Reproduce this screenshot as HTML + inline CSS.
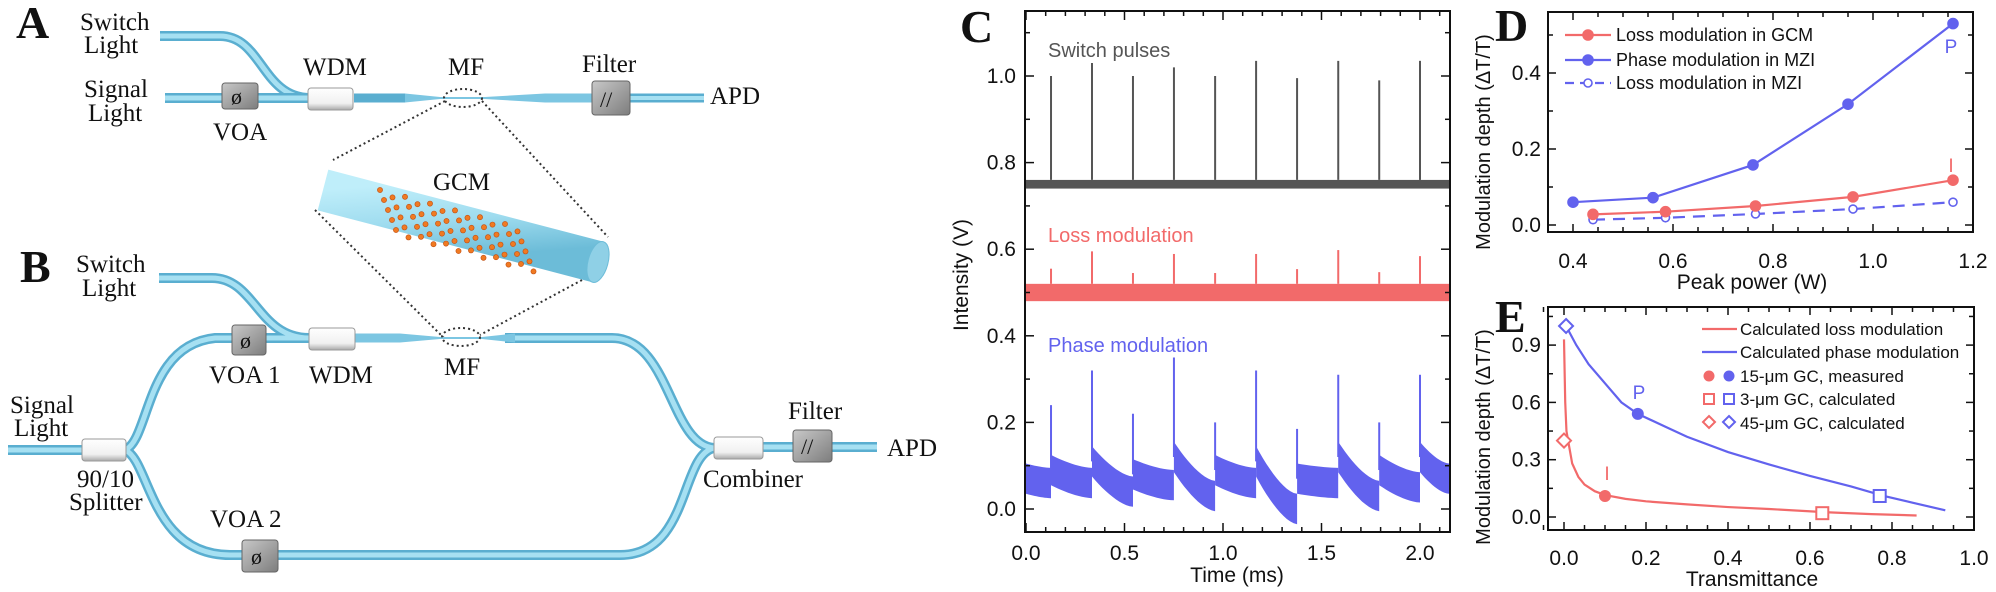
<!DOCTYPE html>
<html><head><meta charset="utf-8"><style>
html,body{margin:0;padding:0;background:#fff;}
svg{display:block;}
.serif{font-family:"Liberation Serif",serif;fill:#111;}
.sans{font-family:"Liberation Sans",sans-serif;}
</style></head><body>
<svg id="fig" width="1996" height="592" viewBox="0 0 1996 592" xmlns="http://www.w3.org/2000/svg">
<defs>
<linearGradient id="boxg" x1="0" y1="0" x2="1" y2="1"><stop offset="0" stop-color="#c8c8c8"/><stop offset="1" stop-color="#7d7d7d"/></linearGradient>
<linearGradient id="wdmg" x1="0" y1="0" x2="0" y2="1"><stop offset="0" stop-color="#ffffff"/><stop offset="0.7" stop-color="#f0f0f0"/><stop offset="1" stop-color="#a9a9a9"/></linearGradient>
<linearGradient id="cylg" x1="0" y1="0" x2="0.3" y2="1"><stop offset="0" stop-color="#bfeefa"/><stop offset="0.5" stop-color="#9fdcef"/><stop offset="1" stop-color="#6cbcd8"/></linearGradient>
</defs>

<g>
<text class="serif" x="16" y="38" font-size="46" font-weight="bold">A</text>
<text class="serif" x="80" y="30" font-size="25">Switch</text>
<text class="serif" x="84" y="53" font-size="25">Light</text>
<text class="serif" x="84" y="97" font-size="25">Signal</text>
<text class="serif" x="88" y="121" font-size="25">Light</text>
<g fill="none" stroke-linecap="butt">
<path d="M160 36 H220 C262 36 262 98 310 98" stroke="#5aaed0" stroke-width="10"/>
<path d="M160 36 H220 C262 36 262 98 310 98" stroke="#a6e0f2" stroke-width="5"/>
<path d="M165 98 H310" stroke="#5aaed0" stroke-width="10"/>
<path d="M165 98 H310" stroke="#a6e0f2" stroke-width="5"/>
<path d="M354 98 H405" stroke="#5aaed0" stroke-width="9"/>
<path d="M590 98 H704" stroke="#5aaed0" stroke-width="9"/>
<path d="M590 98 H704" stroke="#a6e0f2" stroke-width="4"/>
</g>
<polygon points="405,93.5 440,97 485,97 545,93.5 592,93.5 592,102.5 545,102.5 485,99 440,99 405,102.5" fill="#7cc6e2"/>
<g><rect x="222" y="83" width="36" height="26" rx="3" fill="url(#boxg)" stroke="#666"/><text class="serif" x="231" y="104" font-size="22" fill="#111">ø</text></g>
<rect x="308" y="88" width="45" height="22" rx="3" fill="url(#wdmg)" stroke="#999"/>
<ellipse cx="463" cy="98" rx="19" ry="9" fill="none" stroke="#333" stroke-width="2" stroke-dasharray="2,3"/>
<g><rect x="592" y="81" width="38" height="34" rx="3" fill="url(#boxg)" stroke="#666"/><text class="serif" x="600" y="107" font-size="22" fill="#111">//</text></g>
<text class="serif" x="303" y="75" font-size="25">WDM</text>
<text class="serif" x="448" y="75" font-size="25">MF</text>
<text class="serif" x="582" y="72" font-size="25">Filter</text>
<text class="serif" x="213" y="140" font-size="25">VOA</text>
<text class="serif" x="710" y="104" font-size="25">APD</text>
</g>

<g>
<line x1="445" y1="101" x2="333" y2="160" stroke="#333" stroke-width="2" stroke-dasharray="2,3"/>
<line x1="482" y1="101" x2="608" y2="237" stroke="#333" stroke-width="2" stroke-dasharray="2,3"/>
<line x1="315" y1="210" x2="444" y2="338" stroke="#333" stroke-width="2" stroke-dasharray="2,3"/>
<line x1="582" y1="280" x2="480" y2="335" stroke="#333" stroke-width="2" stroke-dasharray="2,3"/>
<line x1="323" y1="190" x2="598" y2="262" stroke="url(#cylg)" stroke-width="42"/>
<ellipse cx="598" cy="262" rx="10" ry="21" transform="rotate(15 598 262)" fill="#8fd0e6" stroke="#6cbcd8"/>
<g id="lattice"></g>
<text class="serif" x="433" y="190" font-size="25">GCM</text>
</g>

<g>
<text class="serif" x="20" y="282" font-size="46" font-weight="bold">B</text>
<text class="serif" x="76" y="272" font-size="25">Switch</text>
<text class="serif" x="82" y="296" font-size="25">Light</text>
<text class="serif" x="10" y="413" font-size="25">Signal</text>
<text class="serif" x="14" y="436" font-size="25">Light</text>
<g fill="none">
<path id="fb1" d="M159 278 H212 C255 278 258 338 309 338"/>
<path id="fb2" d="M8 450 H82"/>
<path id="fb3" d="M125 450 C150 440 145 345 215 338 H309"/>
<path id="fb4" d="M125 450 C150 460 150 555 230 555 H620 C690 555 680 455 714 448"/>
<path id="fb5" d="M505 338 H612 C670 338 670 445 714 448"/>
<path id="fb6" d="M763 447 H877"/>
</g>
<polygon points="355,333.5 400,333.5 440,337 482,337 515,333.5 515,342.5 482,339 440,339 400,342.5 355,342.5" fill="#7cc6e2"/>
<g><rect x="232" y="325" width="34" height="30" rx="3" fill="url(#boxg)" stroke="#666"/><text class="serif" x="240" y="348" font-size="22">ø</text></g>
<rect x="309" y="328" width="46" height="22" rx="3" fill="url(#wdmg)" stroke="#999"/>
<ellipse cx="461" cy="337" rx="19" ry="9" fill="none" stroke="#333" stroke-width="2" stroke-dasharray="2,3"/>
<rect x="82" y="439" width="44" height="22" rx="3" fill="url(#wdmg)" stroke="#999"/>
<rect x="714" y="437" width="49" height="22" rx="3" fill="url(#wdmg)" stroke="#999"/>
<g><rect x="242" y="540" width="36" height="32" rx="3" fill="url(#boxg)" stroke="#666"/><text class="serif" x="251" y="564" font-size="22">ø</text></g>
<g><rect x="793" y="430" width="39" height="32" rx="3" fill="url(#boxg)" stroke="#666"/><text class="serif" x="801" y="454" font-size="22">//</text></g>
<text class="serif" x="209" y="383" font-size="25">VOA 1</text>
<text class="serif" x="309" y="383" font-size="25">WDM</text>
<text class="serif" x="444" y="375" font-size="25">MF</text>
<text class="serif" x="77" y="487" font-size="25">90/10</text>
<text class="serif" x="69" y="510" font-size="25">Splitter</text>
<text class="serif" x="210" y="527" font-size="25">VOA 2</text>
<text class="serif" x="703" y="487" font-size="25">Combiner</text>
<text class="serif" x="788" y="419" font-size="25">Filter</text>
<text class="serif" x="887" y="456" font-size="25">APD</text>
</g>

<text class="serif" x="960" y="42" font-size="46" font-weight="bold">C</text>
<text class="serif" x="1495" y="41" font-size="46" font-weight="bold">D</text>
<text class="serif" x="1495" y="332" font-size="46" font-weight="bold">E</text>

<g id="chartC"></g>
<g id="chartD"></g>
<g id="chartE"></g>
</svg>

<script>
const pulseTimes = [0.127,0.335,0.543,0.751,0.96,1.168,1.376,1.585,1.793,2.0];
const switchPeaks = [1.0,1.03,1.0,1.02,1.0,1.035,0.995,1.035,0.99,1.035];
const switchBand = [0.74,0.76];
const lossPeaks = [0.555,0.595,0.545,0.589,0.545,0.589,0.554,0.598,0.547,0.584];
const lossBand = [0.48,0.52];
const phasePeaks = [0.24,0.32,0.22,0.35,0.2,0.32,0.185,0.31,0.2,0.31];
const phaseStart = [0.09,0.11,0.08,0.12,0.09,0.11,0.07,0.12,0.09,0.12];
const phaseEnd = [0.06,0.04,0.055,0.03,0.06,0.0,0.06,0.03,0.05,0.07];
const phaseInitial = [0.07,0.06];
const cXTicks = [0,0.5,1.0,1.5,2.0];
const cXTickLabels = ["0.0","0.5","1.0","1.5","2.0"];
const cYTicks = [0,0.2,0.4,0.6,0.8,1.0];
const cYTickLabels = ["0.0","0.2","0.4","0.6","0.8","1.0"];

const dPhaseX = [0.40,0.56,0.76,0.95,1.16];
const dPhaseY = [0.06,0.072,0.158,0.318,0.53];
const dLossX = [0.44,0.585,0.765,0.96,1.16];
const dLossY = [0.028,0.035,0.05,0.074,0.118];
const dMziX = [0.44,0.585,0.765,0.96,1.16];
const dMziY = [0.014,0.019,0.029,0.042,0.06];
const dXTicks = [0.4,0.6,0.8,1.0,1.2];
const dXTickLabels = ["0.4","0.6","0.8","1.0","1.2"];
const dYTicks = [0,0.2,0.4];
const dYTickLabels = ["0.0","0.2","0.4"];

const eLossX = [0.0,0.003,0.006,0.01,0.02,0.035,0.05,0.075,0.1,0.15,0.2,0.3,0.4,0.5,0.64,0.75,0.86];
const eLossY = [0.93,0.6,0.45,0.4,0.28,0.21,0.17,0.135,0.115,0.095,0.082,0.066,0.052,0.042,0.025,0.015,0.008];
const ePhaseX = [0.005,0.03,0.06,0.1,0.14,0.18,0.25,0.3,0.4,0.5,0.6,0.7,0.78,0.85,0.93];
const ePhaseY = [1.0,0.9,0.8,0.7,0.6,0.54,0.47,0.42,0.34,0.275,0.215,0.16,0.11,0.075,0.035];
const eMeasured = [[0.1,0.11,"loss"],[0.18,0.54,"phase"]];
const eSquares = [[0.63,0.02,"loss"],[0.77,0.11,"phase"]];
const eDiamonds = [[0.0,0.4,"loss"],[0.005,1.0,"phase"]];
const eXTicks = [0,0.2,0.4,0.6,0.8,1.0];
const eXTickLabels = ["0.0","0.2","0.4","0.6","0.8","1.0"];
const eYTicks = [0,0.3,0.6,0.9];
const eYTickLabels = ["0.0","0.3","0.6","0.9"];

const NS = "http://www.w3.org/2000/svg";
function mk(parent, tag, attrs){
  const e = document.createElementNS(NS, tag);
  for (const k in attrs) e.setAttribute(k, attrs[k]);
  parent.appendChild(e);
  return e;
}
const RED = "#f26a6a", BLUE = "#6262ee", GRAY = "#555";

["fb1","fb2","fb3","fb4","fb5","fb6"].forEach(id=>{
  const p = document.getElementById(id);
  const c = p.cloneNode();
  p.setAttribute("stroke","#5aaed0"); p.setAttribute("stroke-width","10");
  c.setAttribute("stroke","#a6e0f2"); c.setAttribute("stroke-width","5");
  p.parentNode.appendChild(c);
});

const lat = document.getElementById("lattice");
for (let i=0;i<12;i++){
  for (let j=0;j<5;j++){
    const cx = 380 + i*12.5 + j*4;
    const cy = 190 + j*10 + i*3.4 + (i%2)*4;
    const d = mk(lat,"circle",{cx:cx,cy:cy,r:2.6,fill:"#f07a22",stroke:"#c04d10","stroke-width":0.6});
    
    
  }
}

function axesBox(g, x0,y0,x1,y1, name){
  const r = mk(g,"rect",{x:x0,y:y0,width:x1-x0,height:y1-y0,fill:"none",stroke:"#111","stroke-width":2});
  
  
}
function tickMarks(g, xs, isX, pos0, pos1, len, name){
  xs.forEach(p=>{
    let l1, l2;
    if (isX){ l1 = mk(g,"line",{x1:p,y1:pos1,x2:p,y2:pos1-len,stroke:"#111","stroke-width":1.5}); l2 = mk(g,"line",{x1:p,y1:pos0,x2:p,y2:pos0+len,stroke:"#111","stroke-width":1.5}); }
    else { l1 = mk(g,"line",{x1:pos0,y1:p,x2:pos0+len,y2:p,stroke:"#111","stroke-width":1.5}); l2 = mk(g,"line",{x1:pos1,y1:p,x2:pos1-len,y2:p,stroke:"#111","stroke-width":1.5}); }
    
    
    
    
  });
}
function label(g, x, y, txt, size, anchor, fill, name, rot){
  const t = mk(g,"text",{x:x,y:y,"font-size":size,"text-anchor":anchor,fill:fill||"#111","font-family":"Liberation Sans, sans-serif"});
  if (rot) t.setAttribute("transform", "rotate(-90 "+x+" "+y+")");
  t.textContent = txt;
  
  
  return t;
}
function range(a,b,s){const r=[];for(let v=a;v<=b+1e-9;v+=s)r.push(Math.round(v*1000)/1000);return r;}

(function(){
  const g = document.getElementById("chartC");
  const X0=1025,X1=1450,Y0=11,Y1=532;
  const x = t => 1026 + 197*t;
  const y = v => 509 - 433*v;
  const sb = mk(g,"rect",{x:X0+1,y:y(switchBand[1]),width:X1-X0-2,height:y(switchBand[0])-y(switchBand[1]),fill:GRAY});
  
  
  pulseTimes.forEach((t,i)=>{
    const l = mk(g,"line",{x1:x(t),x2:x(t),y1:y(switchBand[1]),y2:y(switchPeaks[i]),stroke:GRAY,"stroke-width":2});
    
    
  });
  const lb = mk(g,"rect",{x:X0+1,y:y(lossBand[1]),width:X1-X0-2,height:y(lossBand[0])-y(lossBand[1]),fill:RED});
  
  
  pulseTimes.forEach((t,i)=>{
    const l = mk(g,"line",{x1:x(t),x2:x(t),y1:y(lossBand[1]),y2:y(lossPeaks[i]),stroke:RED,"stroke-width":2});
    
    
  });
  const H = 0.035;
  const tEnd = (X1-1-1026)/197;
  const segs = [[0,pulseTimes[0],phaseInitial[0],phaseInitial[1]]];
  pulseTimes.forEach((t,i)=>{
    const tn = i+1<pulseTimes.length ? pulseTimes[i+1] : tEnd;
    segs.push([t,tn,phaseStart[i],phaseEnd[i]]);
  });
  segs.forEach(s=>{
    const top=[],bot=[];
    for(let k=0;k<=12;k++){
      const f=k/12, tt=s[0]+(s[1]-s[0])*f;
      const v=s[3]+(s[2]-s[3])*Math.pow(1-f,1.6);
      top.push(x(tt).toFixed(1)+","+y(v+H).toFixed(1));
      bot.unshift(x(tt).toFixed(1)+","+y(v-H).toFixed(1));
    }
    const p = mk(g,"polygon",{points:top.concat(bot).join(" "),fill:BLUE});
    
    
  });
  pulseTimes.forEach((t,i)=>{
    const l = mk(g,"line",{x1:x(t),x2:x(t),y1:y(phaseStart[i]),y2:y(phasePeaks[i]),stroke:BLUE,"stroke-width":2});
    
    
  });
  axesBox(g,X0,Y0,X1,Y1,'chart-c-frame');
  tickMarks(g, cXTicks.map(x), true, Y0, Y1, 9, 'c-x-major-tick');
  tickMarks(g, range(0.1,2.1,0.1).filter(v=>Math.abs(v*2-Math.round(v*2))>1e-6).map(x), true, Y0, Y1, 5, 'c-x-minor-tick');
  tickMarks(g, cYTicks.map(y), false, X0, X1, 9, 'c-y-major-tick');
  tickMarks(g, [0.1,0.3,0.5,0.7,0.9,1.1].map(y), false, X0, X1, 5, 'c-y-minor-tick');
  cXTicks.forEach((v,i)=>label(g, x(v), 560, cXTickLabels[i], 21, "middle", "#111", 'c-x-tick-label'));
  cYTicks.forEach((v,i)=>label(g, 1016, y(v)+7, cYTickLabels[i], 21, "end", "#111", 'c-y-tick-label'));
  label(g, 1237, 582, "Time (ms)", 21, "middle", "#111", 'c-x-axis-title');
  label(g, 968, 275, "Intensity (V)", 21, "middle", "#111", 'c-y-axis-title', true);
  label(g, 1048, 57, "Switch pulses", 20, "start", "#555", 'switch-pulses-label');
  label(g, 1048, 242, "Loss modulation", 20, "start", RED, 'loss-modulation-label');
  label(g, 1048, 352, "Phase modulation", 20, "start", BLUE, 'phase-modulation-label');
})();

(function(){
  const g = document.getElementById("chartD");
  const X0=1548,X1=1973,Y0=12,Y1=232;
  const x = p => 1573 + 500*(p-0.4);
  const y = v => 225 - 380*v;
  function series(xs, ys, color, dash, open, name){
    const pl = mk(g,"polyline",{points:xs.map((p,i)=>x(p)+","+y(ys[i])).join(" "),fill:"none",stroke:color,"stroke-width":2.2,"stroke-dasharray":dash||"none"});
    
    
    xs.forEach((p,i)=>{
      const c = mk(g,"circle",{cx:x(p),cy:y(ys[i]),r:open?4:5,fill:open?"#fff":color,stroke:color,"stroke-width":1.6});
      
      
    });
  }
  series(dMziX,dMziY,BLUE,"12,8",true,'loss-mzi');
  series(dLossX,dLossY,RED,null,false,'loss-gcm');
  series(dPhaseX,dPhaseY,BLUE,null,false,'phase-mzi');
  axesBox(g,X0,Y0,X1,Y1,'chart-d-frame');
  tickMarks(g, dXTicks.map(x), true, Y0, Y1, 8, 'd-x-major-tick');
  tickMarks(g, range(0.35,1.15,0.1).concat([0.5,0.7,0.9,1.1]).map(x), true, Y0, Y1, 5, 'd-x-minor-tick');
  tickMarks(g, dYTicks.map(y), false, X0, X1, 8, 'd-y-major-tick');
  tickMarks(g, [0.1,0.3,0.5].map(y), false, X0, X1, 5, 'd-y-minor-tick');
  dXTicks.forEach((v,i)=>label(g, x(v), 268, dXTickLabels[i], 21, "middle", "#111", 'd-x-tick-label'));
  dYTicks.forEach((v,i)=>label(g, 1541, y(v)+7, dYTickLabels[i], 21, "end", "#111", 'd-y-tick-label'));
  label(g, 1752, 289, "Peak power (W)", 21, "middle", "#111", 'd-x-axis-title');
  label(g, 1490, 142, "Modulation depth (\u0394T/T)", 20, "middle", "#111", 'd-y-axis-title', true);
  const rows=[[35,RED,null,false,"Loss modulation in GCM"],[60,BLUE,null,false,"Phase modulation in MZI"],[83,BLUE,"9,6",true,"Loss modulation in MZI"]];
  rows.forEach(r=>{
    const l = mk(g,"line",{x1:1565,x2:1611,y1:r[0],y2:r[0],stroke:r[1],"stroke-width":2.2,"stroke-dasharray":r[2]||"none"});
    
    
    const c = mk(g,"circle",{cx:1588,cy:r[0],r:r[3]?4:5,fill:r[3]?"#fff":r[1],stroke:r[1],"stroke-width":1.6});
    
    
    label(g, 1616, r[0]+6, r[4], 18, "start", "#111", 'd-legend-entry');
  });
  label(g, 1951, 53, "P", 19, "middle", BLUE, 'd-p-annotation');
  label(g, 1951, 172, "I", 19, "middle", RED, 'd-i-annotation');
})();

(function(){
  const g = document.getElementById("chartE");
  const X0=1548,X1=1974,Y0=307,Y1=530;
  const x = t => 1564 + 410*t;
  const y = v => 517 - 191*v;
  const cl = mk(g,"polyline",{points:eLossX.map((t,i)=>x(t)+","+y(eLossY[i])).join(" "),fill:"none",stroke:RED,"stroke-width":2.2});
  
  
  const cp = mk(g,"polyline",{points:ePhaseX.map((t,i)=>x(t)+","+y(ePhaseY[i])).join(" "),fill:"none",stroke:BLUE,"stroke-width":2.2});
  
  
  const col = k => k==="loss"?RED:BLUE;
  eMeasured.forEach(m=>{
    const c = mk(g,"circle",{cx:x(m[0]),cy:y(m[1]),r:6,fill:col(m[2])});
    
    
  });
  eSquares.forEach(m=>{
    const r = mk(g,"rect",{x:x(m[0])-6,y:y(m[1])-6,width:12,height:12,fill:"#fff",stroke:col(m[2]),"stroke-width":2});
    
    
  });
  eDiamonds.forEach(m=>{
    const cx=x(m[0]), cy=y(m[1]);
    const p = mk(g,"polygon",{points:(cx)+","+(cy-7)+" "+(cx+7)+","+cy+" "+cx+","+(cy+7)+" "+(cx-7)+","+cy,fill:"#fff",stroke:col(m[2]),"stroke-width":2});
    
    
  });
  axesBox(g,X0,Y0,X1,Y1,'chart-e-frame');
  tickMarks(g, eXTicks.map(x), true, Y0, Y1, 8, 'e-x-major-tick');
  tickMarks(g, [-0.05,0.05,0.1,0.15,0.25,0.3,0.35,0.45,0.5,0.55,0.65,0.7,0.75,0.85,0.9,0.95].map(x), true, Y0, Y1, 5, 'e-x-minor-tick');
  tickMarks(g, eYTicks.map(y), false, X0, X1, 8, 'e-y-major-tick');
  tickMarks(g, [0.15,0.45,0.75,1.05].map(y), false, X0, X1, 5, 'e-y-minor-tick');
  eXTicks.forEach((v,i)=>label(g, x(v), 565, eXTickLabels[i], 21, "middle", "#111", 'e-x-tick-label'));
  eYTicks.forEach((v,i)=>label(g, 1541, y(v)+7, eYTickLabels[i], 21, "end", "#111", 'e-y-tick-label'));
  label(g, 1752, 586, "Transmittance", 21, "middle", "#111", 'e-x-axis-title');
  label(g, 1490, 437, "Modulation depth (\u0394T/T)", 20, "middle", "#111", 'e-y-axis-title', true);
  const L1 = mk(g,"line",{x1:1702,x2:1737,y1:329,y2:329,stroke:RED,"stroke-width":2.2});
  
  
  const L2 = mk(g,"line",{x1:1702,x2:1737,y1:352,y2:352,stroke:BLUE,"stroke-width":2.2});
  
  
  [[1709,RED],[1729,BLUE]].forEach(m=>{
    const c = mk(g,"circle",{cx:m[0],cy:376,r:5.5,fill:m[1]});
    
    
    const s = mk(g,"rect",{x:m[0]-5,y:394,width:10,height:10,fill:"#fff",stroke:m[1],"stroke-width":2});
    
    
    const d = mk(g,"polygon",{points:m[0]+",416 "+(m[0]+6)+",422 "+m[0]+",428 "+(m[0]-6)+",422",fill:"#fff",stroke:m[1],"stroke-width":2});
    
    
  });
  label(g, 1740, 335, "Calculated loss modulation", 17, "start", "#111", 'e-legend-entry');
  label(g, 1740, 358, "Calculated phase modulation", 17, "start", "#111", 'e-legend-entry');
  label(g, 1740, 382, "15-\u03bcm GC, measured", 17, "start", "#111", 'e-legend-entry');
  label(g, 1740, 405, "3-\u03bcm GC, calculated", 17, "start", "#111", 'e-legend-entry');
  label(g, 1740, 429, "45-\u03bcm GC, calculated", 17, "start", "#111", 'e-legend-entry');
  label(g, 1639, 399, "P", 19, "middle", BLUE, 'e-p-annotation');
  label(g, 1607, 480, "I", 19, "middle", RED, 'e-i-annotation');
})();
</script>
</body></html>
